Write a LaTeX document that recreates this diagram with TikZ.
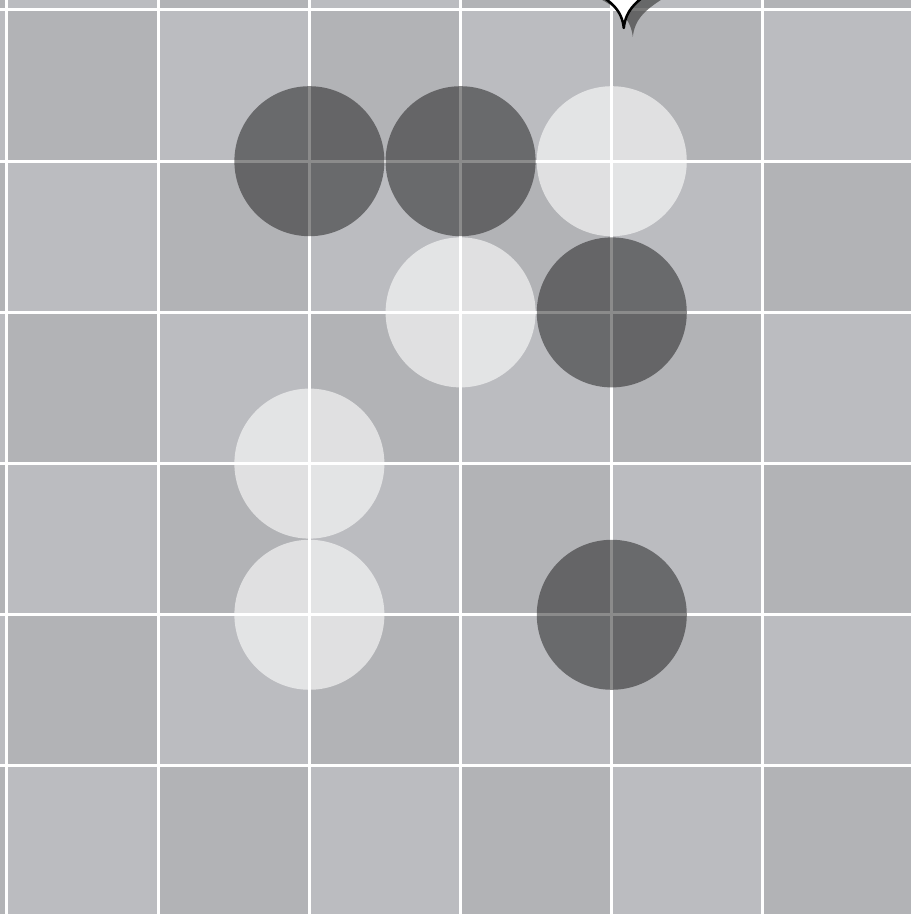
\documentclass[tikz,border=0pt]{standalone}
\usepackage{tikz}
\definecolor{squaredark}{RGB}{178,179,182}
\definecolor{squarelight}{RGB}{187,188,192}

\begin{document}
\begin{tikzpicture}[
    x=151.2pt, y=-151.2pt,
    gridline/.style={draw=white, line width=3pt},
    stone/.style={circle, inner sep=0pt, minimum size=150pt},
    blackstone/.style={stone, fill=black!90, fill opacity=0.5},
    whitestone/.style={stone, fill=white, fill opacity=0.6},
    pointer/.style={draw=black, fill=white, line width=2.5pt, line join=round},
    pointershadow/.style={fill=black!70, fill opacity=0.75},
]
\path[use as bounding box, clip] (-0.0463,-0.0661) rectangle (5.979,5.979);

% board squares
\foreach \i in {-1,...,5} {
  \foreach \j in {-1,...,5} {
    \pgfmathtruncatemacro\parity{\i+\j+2}
    \ifodd\parity
      \fill[squarelight] (\i,\j) rectangle ++(1,1);
    \else
      \fill[squaredark] (\i,\j) rectangle ++(1,1);
    \fi
  }
}

% grid
\foreach \k in {0,...,6} {
  \draw[gridline] (\k,-1) -- (\k,7);
  \draw[gridline] (-1,\k) -- (7,\k);
}

% stones
\node[blackstone] (b21) at (2,1) {};
\node[blackstone] (b31) at (3,1) {};
\node[whitestone] (w41) at (4,1) {};
\node[whitestone] (w32) at (3,2) {};
\node[blackstone] (b42) at (4,2) {};
\node[whitestone] (w23) at (2,3) {};
\node[whitestone] (w24) at (2,4) {};
\node[blackstone] (b44) at (4,4) {};

% pointer at the top
\begin{scope}[shift={(4,0)}, x=1pt, y=-1pt]
  \fill[pointershadow] (-21,-16) .. controls (9,-1) and (19,9) .. (21,27)
    .. controls (23,9) and (33,-1) .. (59,-16) -- cycle;
  \draw[pointer] (-30,-25) .. controls (0,-10) and (10,0) .. (12,18)
    .. controls (14,0) and (24,-10) .. (50,-25) -- cycle;
\end{scope}
\end{tikzpicture}
\end{document}
